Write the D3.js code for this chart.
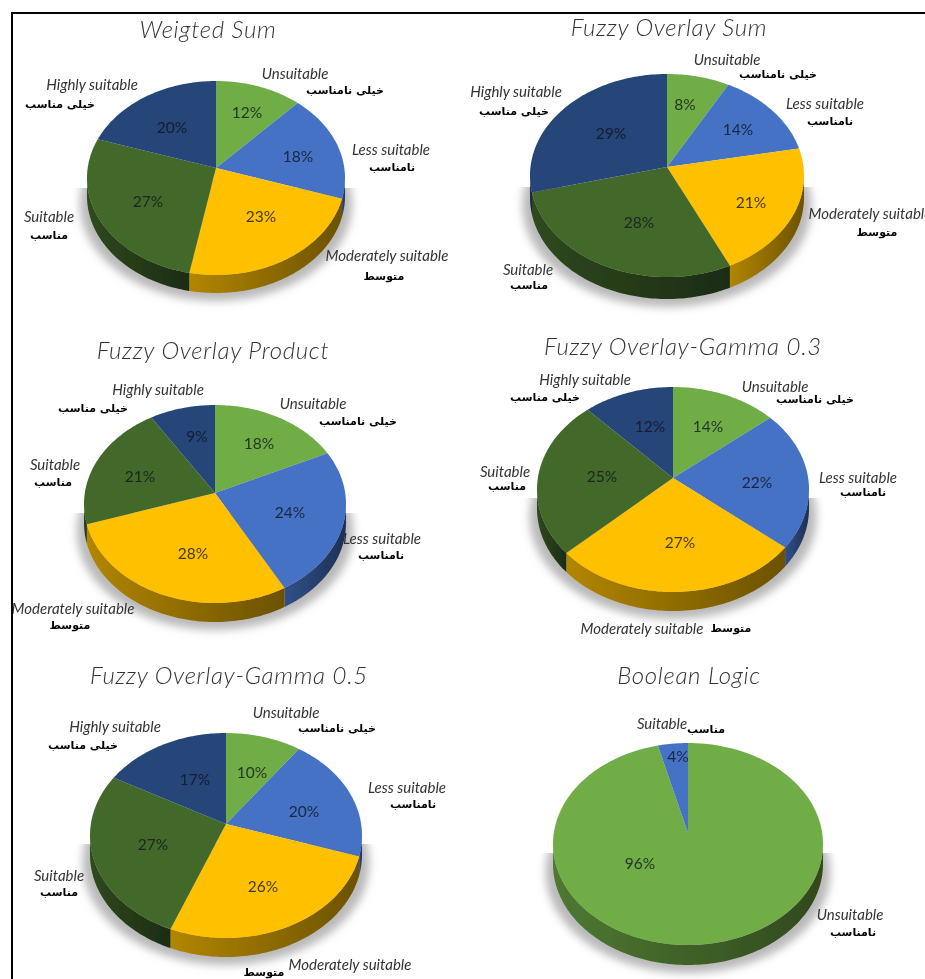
<!DOCTYPE html>
<html>
<head>
<meta charset="utf-8">
<script src="https://cdn.jsdelivr.net/npm/d3@7"></script>
<style>
  html, body { margin: 0; padding: 0; background: #fff; overflow: hidden; }
  .en { font-family: Lato, "Open Sans", sans-serif; font-style: italic; fill: #333; }
  .fa { font-family: "DejaVu Sans", sans-serif; font-weight: bold; fill: #000; }
</style>
</head>
<body>
<div id="container"></div>
<script>
let w = 925;
let h = 979;

// ---- data ----
let titles = ["Weigted Sum", "Fuzzy Overlay Sum", "Fuzzy Overlay Product",
  "Fuzzy Overlay-Gamma 0.3", "Fuzzy Overlay-Gamma 0.5", "Boolean Logic"];

let categories = ["Unsuitable", "Less suitable", "Moderately suitable", "Suitable", "Highly suitable"];
let categoriesFa = ["خیلی نامناسب", "نامناسب", "متوسط", "مناسب", "خیلی مناسب"];
let booleanCategories = ["Unsuitable", "Suitable"];
let booleanCategoriesFa = ["نامناسب", "مناسب"];

let weightedSum = [12, 18, 23, 27, 20];
let overlaySum = [8, 14, 21, 28, 29];
let overlayProduct = [18, 24, 28, 21, 9];
let gamma03 = [14, 22, 27, 25, 12];
let gamma05 = [10, 20, 26, 27, 17];
let booleanLogic = [96, 4];

let colors = ["#70ad47", "#4472c4", "#ffc000", "#43682b", "#264478"];
let booleanColors = ["#70ad47", "#4472c4"];

// ---- layout: where each pie sits and where its texts go ----
// cx,cy = apex of the slices, rx = half width, top/bot = apex to rim, depth = wall height
let pies = [
  { title: [208, 28], values: weightedSum, cx: 216, cy: 168, rx: 129, top: 87, bot: 107, depth: 18,
    pct: [[247,112],[298,156],[261,216],[148,201],[172,127]],
    en: [[295,73],[391,149],[387,255],[49,216],[92,84]],
    fa: [[345,90],[392,167],[384,276],[49,235],[60,104]] },
  { title: [669, 26], values: overlaySum, cx: 667, cy: 167, rx: 137, top: 93, bot: 110, depth: 22,
    pct: [[685,104],[738,129],[751,202],[639,222],[611,133]],
    en: [[727,59],[825,103],[870,213],[528,269],[516,91]],
    fa: [[778,74],[830,121],[877,232],[529,285],[514,111]] },
  { title: [213, 349], values: overlayProduct, cx: 215, cy: 493, rx: 131, top: 88, bot: 110, depth: 19,
    pct: [[259,443],[290,512],[193,553],[140,476],[197,436]],
    en: [[313,403],[382,538],[73,608],[55,464],[158,389]],
    fa: [[358,421],[381,555],[70,625],[53,482],[93,408]] },
  { title: [683, 345], values: gamma03, cx: 673, cy: 478, rx: 136, top: 91, bot: 114, depth: 19,
    pct: [[708,426],[757,482],[680,542],[602,476],[650,426]],
    en: [[775,386],[858,477],[642,628],[505,471],[585,379]],
    fa: [[815,399],[863,492],[731,628],[507,486],[545,397]] },
  { title: [229, 674], values: gamma05, cx: 226, cy: 824, rx: 136, top: 91, bot: 114, depth: 19,
    pct: [[252,772],[304,811],[263,886],[153,844],[195,779]],
    en: [[286,712],[407,787],[350,964],[59,875],[115,726]],
    fa: [[337,728],[413,804],[264,972],[59,892],[83,745]] },
  { title: [689, 674], values: booleanLogic, cx: 688, cy: 833, rx: 135, top: 90, bot: 112, depth: 20,
    names: booleanCategories, namesFa: booleanCategoriesFa, palette: booleanColors,
    pct: [[640,863],[678,756]],
    en: [[850,914],[662,723]],
    fa: [[853,932],[706,729]] }
];

let viz = d3.select("#container")
  .append("svg")
    .attr("width", w)
    .attr("height", h)
    .style("display", "block")
    .style("background-color", "#fff")
;

let defs = viz.append("defs");
defs.append("filter").attr("id", "shadow")
    .attr("x", "-20%").attr("y", "-20%").attr("width", "140%").attr("height", "140%")
  .append("feGaussianBlur").attr("stdDeviation", 4);
defs.append("filter").attr("id", "soft")
  .append("feGaussianBlur").attr("stdDeviation", 0.35);

let chart = viz.append("g").attr("filter", "url(#soft)");
let pieLayout = d3.pie().sort(null).value(function(d){ return d; });
let line = d3.line();

// the pies are tilted towards us, so the near half of the rim looks bigger
function makeProjection(p){
  let k = (p.bot - p.top) / (p.bot + p.top);
  let ry = p.top * (1 + k);
  let r = p.rx * Math.sqrt(1 - k * k);
  return function(a, drop){
    let u = Math.sin(a);
    let v = -Math.cos(a);
    let s = 1 / (1 - k * v);
    return [p.cx + r * u * s, p.cy + ry * v * s + (drop || 0)];
  };
}

function rimPoints(project, a0, a1, drop){
  let steps = Math.max(2, Math.ceil((a1 - a0) / 0.02));
  return d3.range(steps + 1).map(function(i){
    return project(a0 + (a1 - a0) * i / steps, drop);
  });
}

pies.forEach(function(p, pieIndex){
  let names = p.names || categories;
  let namesFa = p.namesFa || categoriesFa;
  let color = d3.scaleOrdinal().domain(names).range(p.palette || colors);
  let project = makeProjection(p);
  let slices = pieLayout(p.values);
  let k = (p.bot - p.top) / (p.bot + p.top);
  let frontStart = Math.PI / 2 + Math.asin(k);
  let frontEnd = Math.PI * 1.5 - Math.asin(k);

  let g = chart.append("g").attr("class", "pie");

  // soft grey shadow, it only shows below the middle of the disc
  defs.append("clipPath").attr("id", "shadowClip" + pieIndex)
    .append("rect")
      .attr("x", p.cx - p.rx - 30).attr("y", p.cy + 20)
      .attr("width", p.rx * 2 + 60).attr("height", p.bot + 30)
  ;
  g.append("g").attr("clip-path", "url(#shadowClip" + pieIndex + ")")
    .append("path")
      .attr("d", line(rimPoints(project, 0, Math.PI * 2, p.depth + 1)) + "Z")
      .attr("fill", "#b9b9b9")
      .attr("filter", "url(#shadow)")
      .attr("transform", "translate(" + p.cx + "," + (p.cy + 7) + ") scale(1.055,1) translate(" + (-p.cx) + "," + (-p.cy) + ")")
  ;

  // wall of the disc, only for the part of the rim that faces us
  slices.forEach(function(s, i){
    let a0 = Math.max(s.startAngle, frontStart);
    let a1 = Math.min(s.endAngle, frontEnd);
    if (a1 <= a0) return;
    let id = "wall" + pieIndex + "-" + i;
    let c = d3.color(color(names[i]));
    let grad = defs.append("linearGradient").attr("id", id)
      .attr("gradientUnits", "userSpaceOnUse")
      .attr("x1", project(a1)[0]).attr("x2", project(a0)[0])
      .attr("y1", 0).attr("y2", 0);
    grad.append("stop").attr("offset", 0).attr("stop-color", c.darker(1));
    grad.append("stop").attr("offset", 1).attr("stop-color", c.darker(2.4));
    let outer = rimPoints(project, a0, a1, 0);
    let lower = rimPoints(project, a0, a1, p.depth).reverse();
    g.append("path")
      .attr("d", line(outer.concat(lower)) + "Z")
      .attr("fill", "url(#" + id + ")")
    ;
  });

  // top face
  g.selectAll(".slice").data(slices).enter()
    .append("path")
      .attr("class", "slice")
      .attr("d", function(s){
        return line([[p.cx, p.cy]].concat(rimPoints(project, s.startAngle, s.endAngle, 0))) + "Z";
      })
      .attr("fill", function(s, i){ return color(names[i]); })
  ;

  // percent labels
  g.selectAll(".pct").data(slices).enter()
    .append("text")
      .attr("class", "pct en")
      .attr("x", function(s, i){ return p.pct[i][0]; })
      .attr("y", function(s, i){ return p.pct[i][1]; })
      .attr("text-anchor", "middle")
      .attr("dominant-baseline", "central")
      .style("font-size", "15.5px")
      .style("font-style", "normal")
      .style("fill", "#10151f")
      .style("fill-opacity", 0.8)
      .text(function(s){ return s.value + "%"; })
  ;

  // english and persian captions
  names.forEach(function(name, i){
    g.append("text")
      .attr("class", "en")
      .attr("x", p.en[i][0]).attr("y", p.en[i][1])
      .attr("text-anchor", "middle")
      .attr("dominant-baseline", "central")
      .style("font-size", "15px")
      .text(name)
    ;
    g.append("text")
      .attr("class", "fa")
      .attr("x", p.fa[i][0]).attr("y", p.fa[i][1])
      .attr("text-anchor", "middle")
      .attr("dominant-baseline", "central")
      .style("font-size", "11px")
      .text(namesFa[i])
    ;
  });

  g.append("text")
    .attr("class", "en")
    .attr("x", p.title[0]).attr("y", p.title[1])
    .attr("text-anchor", "middle")
    .attr("dominant-baseline", "central")
    .style("font-size", "24px")
    .style("font-weight", 300)
    .style("letter-spacing", "0.7px")
    .text(titles[pieIndex])
  ;
});

// frame: only the top and left edges show, text runs under it
viz.append("rect").attr("x", 0).attr("y", 0).attr("width", 11).attr("height", h).attr("fill", "#fff");
viz.append("rect").attr("x", 11).attr("y", 12).attr("width", 2).attr("height", h - 12).attr("fill", "#000");
viz.append("rect").attr("x", 11).attr("y", 12).attr("width", w - 11).attr("height", 2).attr("fill", "#000");
</script>
</body>
</html>
